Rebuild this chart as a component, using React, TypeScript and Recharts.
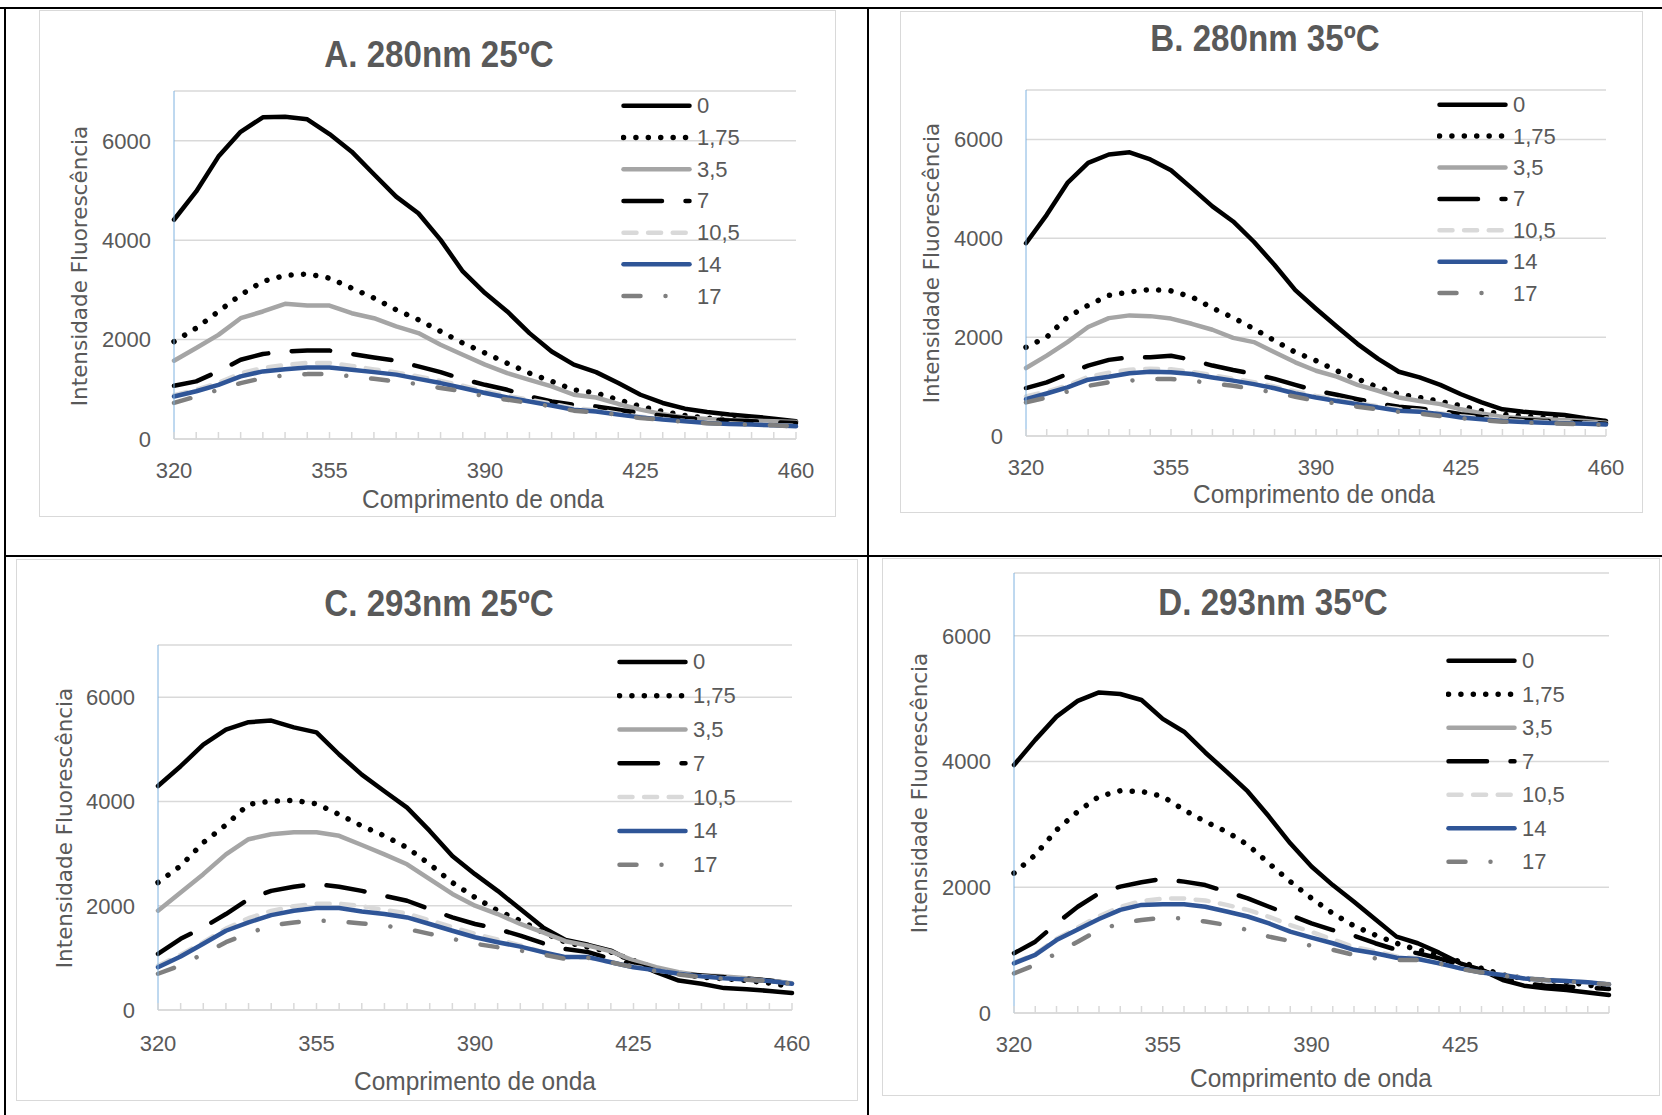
import React from "react"
import { LineChart, Line, XAxis, YAxis, CartesianGrid } from "recharts"

// emission wavelengths (nm), one category every 5 nm
const wavelengths = [
  320, 325, 330, 335, 340, 345, 350, 355, 360, 365, 370, 375, 380, 385, 390,
  395, 400, 405, 410, 415, 420, 425, 430, 435, 440, 445, 450, 455, 460,
]

const seriesNames = ["0", "1,75", "3,5", "7", "10,5", "14", "17"]
const yTicks = [0, 2000, 4000, 6000]

// A. 280nm 25ºC
const a0 = [4410, 4980, 5680, 6180, 6470, 6480, 6430, 6135, 5780, 5325, 4875, 4540, 4005, 3370, 2935, 2565, 2130, 1760, 1495, 1345, 1125, 890, 725, 610, 545, 495, 455, 410, 355]
const a175 = [1960, 2230, 2565, 2900, 3170, 3290, 3320, 3235, 3035, 2835, 2600, 2400, 2165, 1930, 1730, 1525, 1325, 1160, 990, 925, 790, 655, 555, 475, 420, 390, 370, 340, 320]
const a35 = [1575, 1830, 2095, 2430, 2565, 2720, 2685, 2685, 2530, 2430, 2265, 2130, 1895, 1695, 1495, 1325, 1190, 1060, 890, 835, 705, 590, 500, 435, 400, 380, 370, 355, 340]
const a7 = [1070, 1160, 1360, 1595, 1710, 1760, 1780, 1780, 1710, 1640, 1575, 1460, 1345, 1205, 1090, 990, 855, 755, 690, 655, 590, 520, 470, 420, 390, 370, 355, 340, 320]
const a105 = [880, 990, 1130, 1320, 1430, 1490, 1530, 1530, 1470, 1400, 1340, 1260, 1170, 1070, 960, 870, 790, 710, 620, 580, 510, 450, 400, 360, 330, 310, 295, 280, 265]
const a14 = [855, 960, 1090, 1260, 1360, 1405, 1440, 1440, 1395, 1345, 1295, 1210, 1125, 1025, 925, 835, 755, 675, 590, 555, 490, 435, 390, 355, 320, 300, 290, 275, 255]
const a17 = [725, 855, 990, 1125, 1225, 1280, 1305, 1305, 1260, 1210, 1160, 1105, 1025, 960, 855, 790, 725, 655, 570, 535, 490, 420, 390, 340, 315, 300, 290, 275, 255]

// B. 280nm 35ºC
const b0 = [3900, 4475, 5120, 5525, 5695, 5740, 5595, 5375, 5015, 4645, 4340, 3930, 3460, 2950, 2575, 2215, 1865, 1560, 1300, 1185, 1035, 845, 680, 540, 490, 455, 425, 360, 305]
const b175 = [1795, 2000, 2405, 2645, 2845, 2915, 2965, 2935, 2815, 2590, 2395, 2170, 1930, 1695, 1525, 1320, 1155, 985, 845, 780, 700, 610, 510, 440, 405, 375, 355, 325, 290]
const b35 = [1375, 1625, 1900, 2205, 2385, 2440, 2425, 2375, 2270, 2150, 1985, 1900, 1695, 1490, 1320, 1200, 1035, 915, 780, 710, 645, 540, 455, 385, 360, 340, 325, 305, 270]
const b7 = [970, 1085, 1255, 1425, 1540, 1595, 1595, 1625, 1540, 1425, 1335, 1255, 1155, 1035, 915, 835, 745, 660, 590, 555, 510, 440, 385, 355, 325, 305, 290, 270, 250]
const b105 = [800, 900, 1020, 1200, 1280, 1340, 1360, 1350, 1300, 1230, 1160, 1090, 1000, 900, 810, 740, 670, 600, 540, 510, 460, 400, 360, 320, 300, 285, 270, 260, 250]
const b14 = [745, 860, 985, 1140, 1200, 1270, 1300, 1290, 1255, 1185, 1120, 1050, 965, 860, 780, 710, 645, 575, 510, 490, 440, 375, 340, 305, 285, 270, 260, 250, 235]
const b17 = [680, 780, 900, 1015, 1085, 1120, 1155, 1155, 1120, 1065, 1015, 950, 880, 795, 710, 660, 590, 540, 490, 455, 405, 360, 320, 290, 270, 260, 250, 235, 225]

// C. 293nm 25ºC
const c0 = [4295, 4675, 5090, 5375, 5520, 5550, 5420, 5325, 4900, 4515, 4195, 3880, 3435, 2955, 2605, 2285, 1935, 1585, 1345, 1250, 1140, 915, 725, 565, 505, 420, 400, 365, 325]
const c175 = [2445, 2765, 3210, 3550, 3945, 4005, 4020, 3955, 3750, 3530, 3340, 3115, 2795, 2445, 2160, 1905, 1715, 1490, 1300, 1205, 1110, 950, 790, 695, 630, 600, 565, 515, 450]
const c35 = [1905, 2255, 2605, 2985, 3275, 3370, 3410, 3410, 3340, 3165, 2985, 2795, 2510, 2225, 2000, 1840, 1650, 1490, 1320, 1235, 1125, 950, 820, 725, 660, 645, 610, 565, 515]
const c7 = [1075, 1365, 1585, 1840, 2125, 2285, 2365, 2415, 2365, 2285, 2190, 2095, 1935, 1775, 1650, 1555, 1425, 1280, 1170, 1110, 980, 875, 760, 695, 660, 630, 600, 565, 505]
const c105 = [850, 1060, 1300, 1560, 1760, 1900, 1990, 2040, 2040, 1990, 1920, 1850, 1720, 1590, 1460, 1350, 1240, 1110, 1010, 1000, 920, 830, 760, 700, 650, 615, 590, 560, 510]
const c14 = [820, 1025, 1270, 1520, 1680, 1820, 1905, 1955, 1955, 1890, 1840, 1775, 1650, 1520, 1395, 1300, 1215, 1110, 1015, 1015, 915, 820, 760, 695, 645, 610, 585, 555, 505]
const c17 = [695, 855, 1075, 1300, 1470, 1620, 1680, 1715, 1700, 1660, 1620, 1555, 1460, 1365, 1270, 1205, 1140, 1065, 980, 1000, 915, 820, 745, 680, 630, 600, 580, 555, 505]

// D. 293nm 35ºC (no 3,5 curve is drawn in this panel)
const d0 = [3945, 4345, 4715, 4965, 5100, 5075, 4980, 4680, 4475, 4145, 3840, 3525, 3125, 2700, 2330, 2035, 1770, 1490, 1215, 1110, 960, 790, 685, 525, 435, 395, 365, 325, 285]
const d175 = [2225, 2515, 2910, 3205, 3445, 3535, 3525, 3445, 3230, 3045, 2885, 2675, 2380, 2090, 1825, 1585, 1385, 1240, 1110, 1005, 925, 815, 710, 605, 550, 525, 490, 445, 395]
const d35: number[] = []
const d7 = [950, 1135, 1425, 1690, 1905, 2010, 2080, 2135, 2090, 2035, 1930, 1825, 1690, 1560, 1425, 1320, 1230, 1110, 1005, 950, 870, 765, 685, 550, 470, 435, 420, 405, 380]
const d105 = [800, 940, 1180, 1360, 1540, 1690, 1780, 1820, 1820, 1790, 1720, 1640, 1530, 1400, 1290, 1170, 1050, 980, 900, 870, 790, 710, 650, 600, 560, 530, 510, 490, 460]
const d14 = [790, 925, 1160, 1330, 1495, 1640, 1720, 1730, 1730, 1690, 1615, 1535, 1425, 1295, 1200, 1110, 1005, 950, 880, 860, 790, 710, 645, 605, 550, 525, 510, 490, 455]
const d17 = [630, 765, 950, 1135, 1320, 1425, 1480, 1515, 1505, 1455, 1400, 1320, 1215, 1145, 1070, 1005, 925, 870, 845, 845, 790, 700, 645, 595, 550, 525, 500, 485, 455]

const NARROW = "'Liberation Sans Narrow', 'Liberation Sans', Arial, sans-serif"
const WIDE = "'DejaVu Sans', Verdana, sans-serif"
const TEXT = "#595959"
const GRID = "#D9D9D9"

const styles = [
  { color: "#000000", width: 4.5 },
  { color: "#000000", width: 5.5, dash: "0.01 12.4" },
  { color: "#A5A5A5", width: 4.5 },
  { color: "#000000", width: 4.5, dash: "38.5 23.5" },
  { color: "#D9D9D9", width: 4.5, dash: "13 11.6" },
  { color: "#2F5597", width: 4.5 },
  { color: "#7F7F7F", width: 4.5, dash: "17 25 0.01 25" },
]

const panels = [
  {
    title: "A. 280nm 25ºC",
    series: [a0, a175, a35, a7, a105, a14, a17],
    frame: { x: 39, y: 10, w: 797, h: 507 },
    plot: { left: 174, right: 796, top: 91, bottom: 439 },
    titlePos: { x: 439, y: 55 },
    yTitle: { x: 80, y: 266 },
    xTitle: { x: 483, y: 499 },
    legend: { x: 621, y: 106, step: 31.7 },
    labelGap: 31,
    labels: [320, 355, 390, 425, 460],
  },
  {
    title: "B. 280nm 35ºC",
    series: [b0, b175, b35, b7, b105, b14, b17],
    frame: { x: 900, y: 11, w: 743, h: 502 },
    plot: { left: 1026, right: 1606, top: 90, bottom: 436 },
    titlePos: { x: 1265, y: 39 },
    yTitle: { x: 932, y: 263 },
    xTitle: { x: 1314, y: 494 },
    legend: { x: 1437, y: 105, step: 31.4 },
    labelGap: 31,
    labels: [320, 355, 390, 425, 460],
  },
  {
    title: "C. 293nm 25ºC",
    series: [c0, c175, c35, c7, c105, c14, c17],
    frame: { x: 16, y: 559, w: 842, h: 542 },
    plot: { left: 158, right: 792, top: 645, bottom: 1010 },
    titlePos: { x: 439, y: 604 },
    yTitle: { x: 65, y: 828 },
    xTitle: { x: 475, y: 1081 },
    legend: { x: 617, y: 662, step: 33.8 },
    labelGap: 33,
    labels: [320, 355, 390, 425, 460],
  },
  {
    title: "D. 293nm 35ºC",
    series: [d0, d175, d35, d7, d105, d14, d17],
    frame: { x: 882, y: 558, w: 778, h: 538 },
    plot: { left: 1014, right: 1609, top: 573, bottom: 1013 },
    titlePos: { x: 1273, y: 603 },
    yTitle: { x: 920, y: 793 },
    xTitle: { x: 1311, y: 1078 },
    legend: { x: 1446, y: 661, step: 33.5 },
    labelGap: 31,
    labels: [320, 355, 390, 425],
  },
]

function XTick(props: any) {
  const { x, y, payload, labels, gap } = props
  const show = labels.includes(payload.value)
  return (
    <g>
      <line x1={x} x2={x} y1={y} y2={y - 7} stroke={GRID} strokeWidth={1.5} />
      {show && (
        <text x={x} y={y + gap} textAnchor="middle" dominantBaseline="central" fill={TEXT} fontSize={22} fontFamily={NARROW}>
          {payload.value}
        </text>
      )}
    </g>
  )
}

function LegendBox({ x, y, step }: { x: number; y: number; step: number }) {
  return (
    <svg style={{ position: "absolute", left: x, top: y - step / 2 }} width={150} height={step * 7}>
      {seriesNames.map((name, k) => {
        const cy = step * k + step / 2
        return (
          <g key={name}>
            <line
              x1={2.5}
              x2={68.5}
              y1={cy}
              y2={cy}
              stroke={styles[k].color}
              strokeWidth={styles[k].width}
              strokeDasharray={styles[k].dash}
              strokeLinecap="round"
            />
            <text x={76} y={cy} dominantBaseline="central" fill={TEXT} fontSize={22} fontFamily={NARROW}>
              {name}
            </text>
          </g>
        )
      })}
    </svg>
  )
}

function Panel({ p }: { p: (typeof panels)[number] }) {
  const { frame, plot } = p
  const rows = wavelengths.map((wl, i) => {
    const row: Record<string, number | null> = { wl }
    p.series.forEach((arr, k) => {
      row["s" + k] = arr.length ? arr[i] : null
    })
    return row
  })

  return (
    <>
      <div
        style={{
          position: "absolute",
          left: frame.x,
          top: frame.y,
          width: frame.w,
          height: frame.h,
          outline: "1px solid " + GRID,
          outlineOffset: -1,
        }}
      >
        <LineChart
          width={frame.w}
          height={frame.h}
          data={rows}
          margin={{ top: plot.top - frame.y, right: frame.x + frame.w - plot.right, left: 0, bottom: 0 }}
        >
          <CartesianGrid vertical={false} stroke={GRID} strokeWidth={1.5} />
          <XAxis
            dataKey="wl"
            type="category"
            interval={0}
            height={frame.y + frame.h - plot.bottom}
            axisLine={{ stroke: GRID, strokeWidth: 1.5 }}
            tickLine={false}
            tickSize={0}
            tickMargin={0}
            tick={<XTick labels={p.labels} gap={p.labelGap} />}
          />
          <YAxis
            type="number"
            domain={[0, 7000]}
            ticks={yTicks}
            interval={0}
            width={plot.left - frame.x}
            axisLine={{ stroke: "#7FB2E0", strokeWidth: 1 }}
            tickLine={false}
            tickSize={0}
            tickMargin={23}
            tick={{ fill: TEXT, fontSize: 22, fontFamily: NARROW }}
          />
          {p.series.map((arr, k) =>
            arr.length ? (
              <Line
                key={k}
                type="linear"
                dataKey={"s" + k}
                stroke={styles[k].color}
                strokeWidth={styles[k].width}
                strokeDasharray={styles[k].dash}
                strokeLinecap="round"
                strokeLinejoin="round"
                dot={false}
                activeDot={false}
                isAnimationActive={false}
              />
            ) : null
          )}
        </LineChart>
      </div>
      <div
        style={{
          position: "absolute",
          left: p.titlePos.x,
          top: p.titlePos.y,
          transform: "translate(-50%, -50%) scaleX(0.92)",
          whiteSpace: "nowrap",
          fontFamily: NARROW,
          fontWeight: "bold",
          fontSize: 36,
          lineHeight: 1,
          color: TEXT,
        }}
      >
        {p.title}
      </div>
      <div
        style={{
          position: "absolute",
          left: p.yTitle.x,
          top: p.yTitle.y,
          transform: "translate(-50%, -50%) rotate(-90deg)",
          whiteSpace: "nowrap",
          fontFamily: WIDE,
          fontSize: 21.5,
          lineHeight: 1,
          color: TEXT,
        }}
      >
        Intensidade Fluorescência
      </div>
      <div
        style={{
          position: "absolute",
          left: p.xTitle.x,
          top: p.xTitle.y,
          transform: "translate(-50%, -50%) scaleX(0.94)",
          whiteSpace: "nowrap",
          fontFamily: NARROW,
          fontSize: 26,
          lineHeight: 1,
          color: TEXT,
        }}
      >
        Comprimento de onda
      </div>
      <LegendBox x={p.legend.x} y={p.legend.y} step={p.legend.step} />
    </>
  )
}

export default function App() {
  const rule = { position: "absolute" as const, background: "#000" }
  return (
    <div style={{ position: "relative", width: 1662, height: 1115, background: "#fff", overflow: "hidden" }}>
      <style>{"body{margin:0}"}</style>
      <div style={{ ...rule, left: 0, top: 7, width: 1662, height: 2 }} />
      <div style={{ ...rule, left: 4, top: 7, width: 2, height: 1108 }} />
      <div style={{ ...rule, left: 867, top: 7, width: 2, height: 1108 }} />
      <div style={{ ...rule, left: 4, top: 555, width: 1658, height: 2 }} />
      {panels.map((p) => (
        <Panel key={p.title} p={p} />
      ))}
    </div>
  )
}
